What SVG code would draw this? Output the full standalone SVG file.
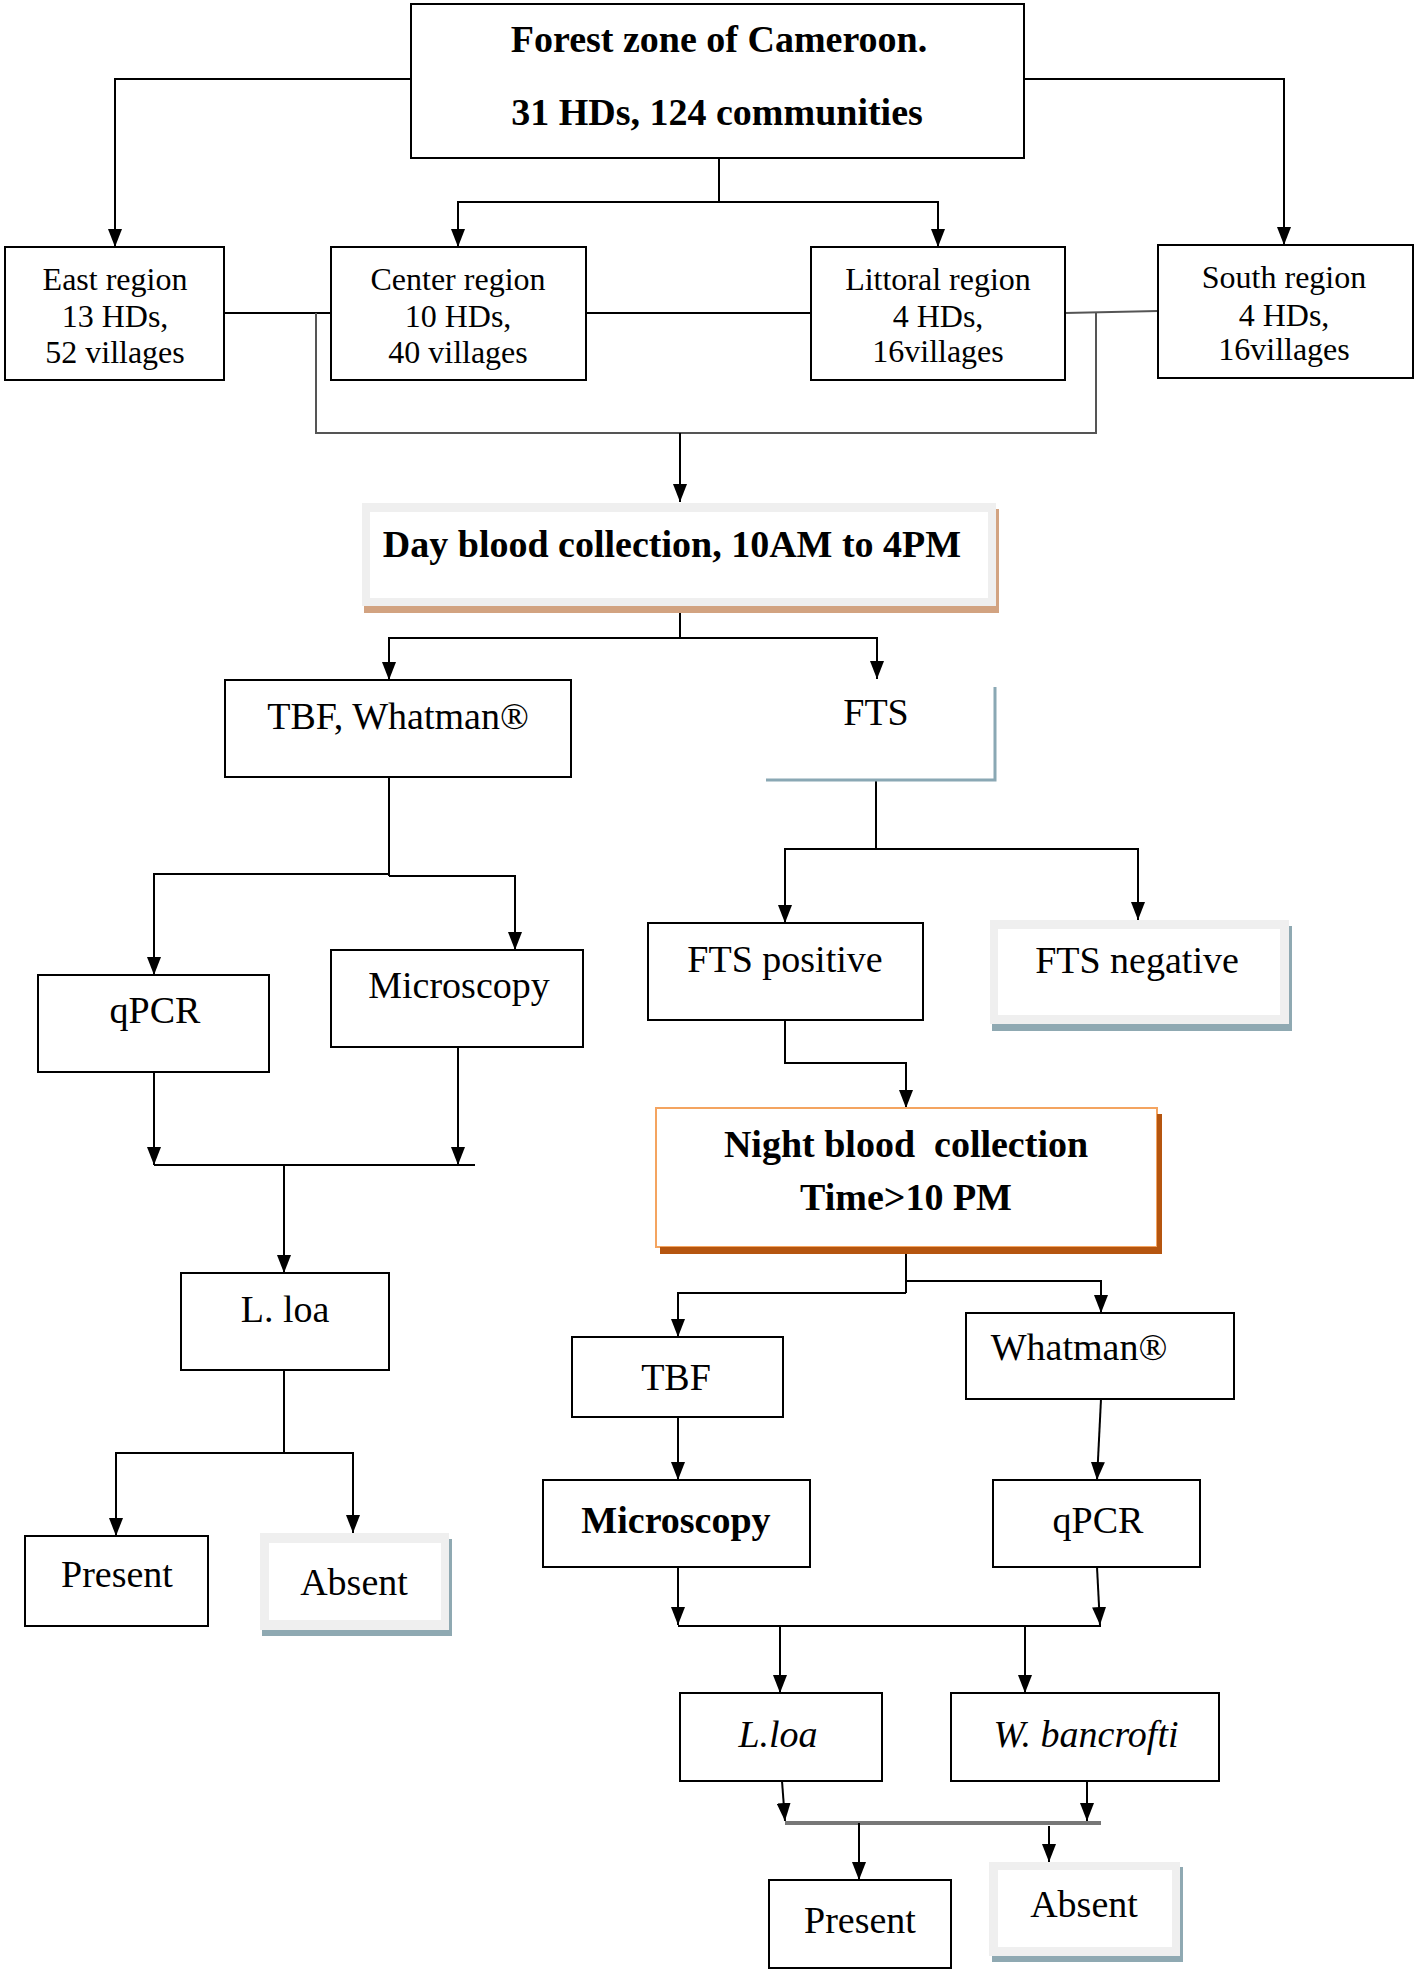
<svg xmlns="http://www.w3.org/2000/svg" width="1418" height="1972" viewBox="0 0 1418 1972">
<style>
.box{fill:#fff;stroke:#000;stroke-width:2}
.t{font-family:"Liberation Serif","Times New Roman",serif;font-size:38px;text-anchor:middle;fill:#000}
.b{font-weight:bold}
.r{font-size:32px}
.i{font-style:italic}
.c{fill:none;stroke:#000;stroke-width:2}
.g{fill:none;stroke:#555;stroke-width:2}
.frame{fill:#efefef}
.inner{fill:#fff}
.sb{fill:#8fa9b2}
.st{fill:#d2a381}
</style>
<defs>
<marker id="ah" viewBox="0 0 18 14" refX="18" refY="7" markerWidth="18" markerHeight="14" markerUnits="userSpaceOnUse" orient="auto">
<path d="M0,0 L18,7 L0,14 z" fill="#000"/>
</marker>
</defs>
<rect width="1418" height="1972" fill="#fff"/>

<g id="connectors">
<polyline class="c" points="411,79 115,79 115,247" marker-end="url(#ah)"/>
<polyline class="c" points="1025,79 1284,79 1284,245" marker-end="url(#ah)"/>
<line class="c" x1="719" y1="158" x2="719" y2="202"/>
<polyline class="c" points="719,202 458,202 458,247" marker-end="url(#ah)"/>
<polyline class="c" points="719,202 938,202 938,247" marker-end="url(#ah)"/>
<line class="c" x1="224" y1="313" x2="331" y2="313"/>
<line class="c" x1="586" y1="313" x2="811" y2="313"/>
<line class="g" x1="1065" y1="313" x2="1158" y2="311"/>
<polyline class="g" points="316,313 316,433 1096,433 1096,313"/>
<line class="c" x1="680" y1="433" x2="680" y2="502" marker-end="url(#ah)"/>
<line class="c" x1="680" y1="605" x2="680" y2="638"/>
<polyline class="c" points="680,638 389,638 389,680" marker-end="url(#ah)"/>
<polyline class="c" points="680,638 877,638 877,679" marker-end="url(#ah)"/>
<line class="c" x1="389" y1="777" x2="389" y2="876"/>
<polyline class="c" points="389,874 154,874 154,975" marker-end="url(#ah)"/>
<polyline class="c" points="389,876 515,876 515,950" marker-end="url(#ah)"/>
<line class="c" x1="876" y1="780" x2="876" y2="849"/>
<polyline class="c" points="876,849 785,849 785,923" marker-end="url(#ah)"/>
<polyline class="c" points="876,849 1138,849 1138,920" marker-end="url(#ah)"/>
<line class="c" x1="154" y1="1072" x2="154" y2="1165" marker-end="url(#ah)"/>
<line class="c" x1="458" y1="1047" x2="458" y2="1165" marker-end="url(#ah)"/>
<line class="c" x1="154" y1="1165" x2="475" y2="1165"/>
<line class="c" x1="284" y1="1165" x2="284" y2="1273" marker-end="url(#ah)"/>
<line class="c" x1="284" y1="1370" x2="284" y2="1453"/>
<polyline class="c" points="284,1453 116,1453 116,1536" marker-end="url(#ah)"/>
<polyline class="c" points="284,1453 353,1453 353,1533" marker-end="url(#ah)"/>
<polyline class="c" points="785,1020 785,1063 906,1063 906,1108" marker-end="url(#ah)"/>
<line class="c" x1="906" y1="1253" x2="906" y2="1293"/>
<polyline class="c" points="906,1293 678,1293 678,1337" marker-end="url(#ah)"/>
<polyline class="c" points="906,1281 1101,1281 1101,1313" marker-end="url(#ah)"/>
<line class="c" x1="678" y1="1417" x2="678" y2="1480" marker-end="url(#ah)"/>
<line class="c" x1="1101" y1="1399" x2="1097" y2="1480" marker-end="url(#ah)"/>
<line class="c" x1="678" y1="1567" x2="678" y2="1625" marker-end="url(#ah)"/>
<line class="c" x1="1097" y1="1567" x2="1100" y2="1625" marker-end="url(#ah)"/>
<line class="c" x1="678" y1="1626" x2="1101" y2="1626"/>
<line class="c" x1="780" y1="1626" x2="780" y2="1693" marker-end="url(#ah)"/>
<line class="c" x1="1025" y1="1626" x2="1025" y2="1693" marker-end="url(#ah)"/>
<line class="c" x1="782" y1="1781" x2="785" y2="1821" marker-end="url(#ah)"/>
<line class="c" x1="1087" y1="1781" x2="1087" y2="1821" marker-end="url(#ah)"/>
<line x1="785" y1="1823" x2="1101" y2="1823" stroke="#777" stroke-width="4"/>
<line class="c" x1="859" y1="1823" x2="859" y2="1880" marker-end="url(#ah)"/>
<line class="c" x1="1049" y1="1826" x2="1049" y2="1862" marker-end="url(#ah)"/>
</g>

<g id="forest">
<rect class="box" x="411" y="4" width="613" height="154"/>
<text class="t b" x="719" y="52">Forest zone of Cameroon.</text>
<text class="t b" x="717" y="125">31 HDs, 124 communities</text>
</g>
<g id="east">
<rect class="box" x="5" y="247" width="219" height="133"/>
<text class="t r" x="115" y="290">East region</text>
<text class="t r" x="115" y="327">13 HDs,</text>
<text class="t r" x="115" y="363">52 villages</text>
</g>
<g id="center">
<rect class="box" x="331" y="247" width="255" height="133"/>
<text class="t r" x="458" y="290">Center region</text>
<text class="t r" x="458" y="327">10 HDs,</text>
<text class="t r" x="458" y="363">40 villages</text>
</g>
<g id="littoral">
<rect class="box" x="811" y="247" width="254" height="133"/>
<text class="t r" x="938" y="290">Littoral region</text>
<text class="t r" x="938" y="327">4 HDs,</text>
<text class="t r" x="938" y="362">16villages</text>
</g>
<g id="south">
<rect class="box" x="1158" y="245" width="255" height="133"/>
<text class="t r" x="1284" y="288">South region</text>
<text class="t r" x="1284" y="326">4 HDs,</text>
<text class="t r" x="1284" y="360">16villages</text>
</g>
<g id="day">
<rect class="frame" x="362" y="503" width="634" height="103"/>
<rect class="inner" x="370" y="512" width="618" height="86"/>
<rect class="st" x="996" y="509" width="3" height="104"/>
<rect class="st" x="364" y="606" width="635" height="7"/>
<text class="t b" x="672" y="557" font-size="35">Day blood collection, 10AM to 4PM</text>
</g>
<g id="tbf-whatman">
<rect class="box" x="225" y="680" width="346" height="97"/>
<text class="t" x="398" y="729">TBF, Whatman®</text>
</g>
<g id="fts">
<polyline points="995,687 995,780 766,780" fill="none" stroke="#8aa8b4" stroke-width="3"/>
<text class="t" x="876" y="725">FTS</text>
</g>
<g id="qpcr1">
<rect class="box" x="38" y="975" width="231" height="97"/>
<text class="t" x="155" y="1023">qPCR</text>
</g>
<g id="micro1">
<rect class="box" x="331" y="950" width="252" height="97"/>
<text class="t" x="459" y="998">Microscopy</text>
</g>
<g id="ftspos">
<rect class="box" x="648" y="923" width="275" height="97"/>
<text class="t" x="785" y="972">FTS positive</text>
</g>
<g id="ftsneg">
<rect class="frame" x="990" y="920" width="299" height="104"/>
<rect class="inner" x="998" y="929" width="282" height="86"/>
<rect class="sb" x="1289" y="926" width="3" height="105"/>
<rect class="sb" x="992" y="1024" width="300" height="7"/>
<text class="t" x="1137" y="973">FTS negative</text>
</g>
<g id="lloa1">
<rect class="box" x="181" y="1273" width="208" height="97"/>
<text class="t" x="285" y="1322">L. loa</text>
</g>
<g id="present1">
<rect class="box" x="25" y="1536" width="183" height="90"/>
<text class="t" x="117" y="1587">Present</text>
</g>
<g id="absent1">
<rect class="frame" x="260" y="1533" width="189" height="97"/>
<rect class="inner" x="269" y="1543" width="172" height="77"/>
<rect class="sb" x="449" y="1539" width="3" height="97"/>
<rect class="sb" x="262" y="1630" width="190" height="6"/>
<text class="t" x="354" y="1595">Absent</text>
</g>
<g id="night">
<rect x="656" y="1108" width="501" height="139" fill="#fff" stroke="#f4a460" stroke-width="2"/>
<rect x="1157" y="1114" width="5" height="140" fill="#b5550f"/>
<rect x="660" y="1247" width="502" height="7" fill="#b5550f"/>
<text class="t b" x="906" y="1157" xml:space="preserve">Night blood  collection</text>
<text class="t b" x="906" y="1210">Time&gt;10 PM</text>
</g>
<g id="tbf2">
<rect class="box" x="572" y="1337" width="211" height="80"/>
<text class="t" x="676" y="1390">TBF</text>
</g>
<g id="whatman2">
<rect class="box" x="966" y="1313" width="268" height="86"/>
<text class="t" x="1079" y="1360">Whatman®</text>
</g>
<g id="micro2">
<rect class="box" x="543" y="1480" width="267" height="87"/>
<text class="t b" x="676" y="1533">Microscopy</text>
</g>
<g id="qpcr2">
<rect class="box" x="993" y="1480" width="207" height="87"/>
<text class="t" x="1098" y="1533">qPCR</text>
</g>
<g id="lloa2">
<rect class="box" x="680" y="1693" width="202" height="88"/>
<text class="t i" x="778" y="1747">L.loa</text>
</g>
<g id="wbancrofti">
<rect class="box" x="951" y="1693" width="268" height="88"/>
<text class="t i" x="1086" y="1747">W. bancrofti</text>
</g>
<g id="present2">
<rect class="box" x="769" y="1880" width="182" height="88"/>
<text class="t" x="860" y="1933">Present</text>
</g>
<g id="absent2">
<rect class="frame" x="989" y="1862" width="191" height="94"/>
<rect class="inner" x="998" y="1870" width="174" height="77"/>
<rect class="sb" x="1180" y="1867" width="3" height="95"/>
<rect class="sb" x="992" y="1956" width="191" height="6"/>
<text class="t" x="1084" y="1917">Absent</text>
</g>
</svg>
